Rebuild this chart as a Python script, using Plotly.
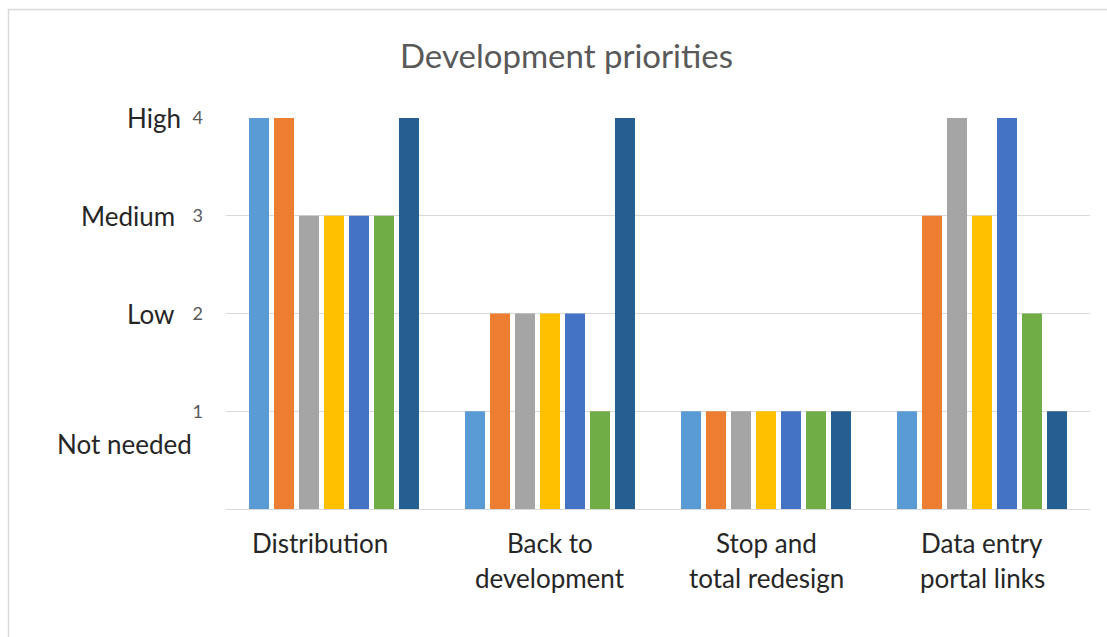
import plotly.graph_objects as go

categories = ["Distribution", "Back to<br>development", "Stop and<br>total redesign", "Data entry<br>portal links"]
series_names = ["Series 1", "Series 2", "Series 3", "Series 4", "Series 5", "Series 6", "Series 7"]
series_values = [
    [4, 1, 1, 1],
    [4, 2, 1, 3],
    [3, 2, 1, 4],
    [3, 2, 1, 3],
    [3, 2, 1, 4],
    [3, 1, 1, 2],
    [4, 4, 1, 1],
]
colors = ["#5B9BD5", "#ED7D31", "#A5A5A5", "#FFC000", "#4472C4", "#70AD47", "#255E91"]
tick_values = [1, 2, 3, 4]
level_labels = ["Not needed", "Low", "Medium", "High"]
title_text = "Development priorities"

FONT = "Lato, 'Open Sans', sans-serif"

fig = go.Figure()
for name, vals, col in zip(series_names, series_values, colors):
    fig.add_trace(go.Bar(x=list(range(len(categories))), y=vals, name=name,
                         marker=dict(color=col, line=dict(width=0))))

W, H = 1107, 637
L, R, T, B = 226, 17, 118, 128
pw, ph = W - L - R, H - T - B

def px_x(p):
    return (p - L) / pw

def px_y(p):
    return (H - B - p) / ph

annotations = []
# level labels on the left
level_pos = {"High": 4, "Medium": 3, "Low": 2, "Not needed": 0.66}
level_right = {"High": 183, "Medium": 177, "Low": 176, "Not needed": 194}
for lab in level_labels:
    annotations.append(dict(text=lab, xref="paper", yref="y", x=px_x(level_right[lab]),
                            y=level_pos[lab], xanchor="right", yanchor="middle", showarrow=False,
                            font=dict(family=FONT, size=26, color="#262626")))
# category labels, line by line
for i, cat in enumerate(categories):
    lines = cat.split("<br>")
    for j, ln in enumerate(lines):
        xoff = -14 if len(lines) == 1 else 0
        annotations.append(dict(text=ln, xref="x", yref="paper", x=i, xshift=xoff,
                                y=px_y(543 + 35 * j), xanchor="center", yanchor="middle",
                                showarrow=False,
                                font=dict(family=FONT, size=26, color="#262626")))
# title
annotations.append(dict(text=title_text, xref="paper", yref="paper", x=px_x(566), y=px_y(55),
                        xanchor="center", yanchor="middle", showarrow=False,
                        font=dict(family=FONT, size=33, color="#595959")))

shapes = [dict(type="rect", xref="paper", yref="paper",
               x0=px_x(8.5), y0=px_y(660), x1=px_x(1130), y1=px_y(9.5),
               line=dict(color="#D9D9D9", width=1.5), fillcolor="rgba(0,0,0,0)", layer="below")]

fig.update_layout(
    width=W, height=H,
    margin=dict(l=L, r=R, t=T, b=B, pad=0),
    paper_bgcolor="white", plot_bgcolor="white",
    barmode="group", bargap=0.19, bargroupgap=0.2,
    showlegend=False,
    annotations=annotations, shapes=shapes,
    xaxis=dict(range=[-0.5, len(categories) - 0.5], showticklabels=False, showgrid=False,
               zeroline=False, showline=True, linecolor="#D9D9D9", linewidth=1, ticks=""),
    yaxis=dict(range=[0, 4], tickvals=tick_values, ticktext=[str(v) for v in tick_values],
               showgrid=True, gridcolor="#D9D9D9", gridwidth=1, zeroline=False, showline=False,
               ticks="", ticklabelstandoff=22,
               tickfont=dict(family=FONT, size=18, color="#595959")),
)

fig.write_html("out.html")
